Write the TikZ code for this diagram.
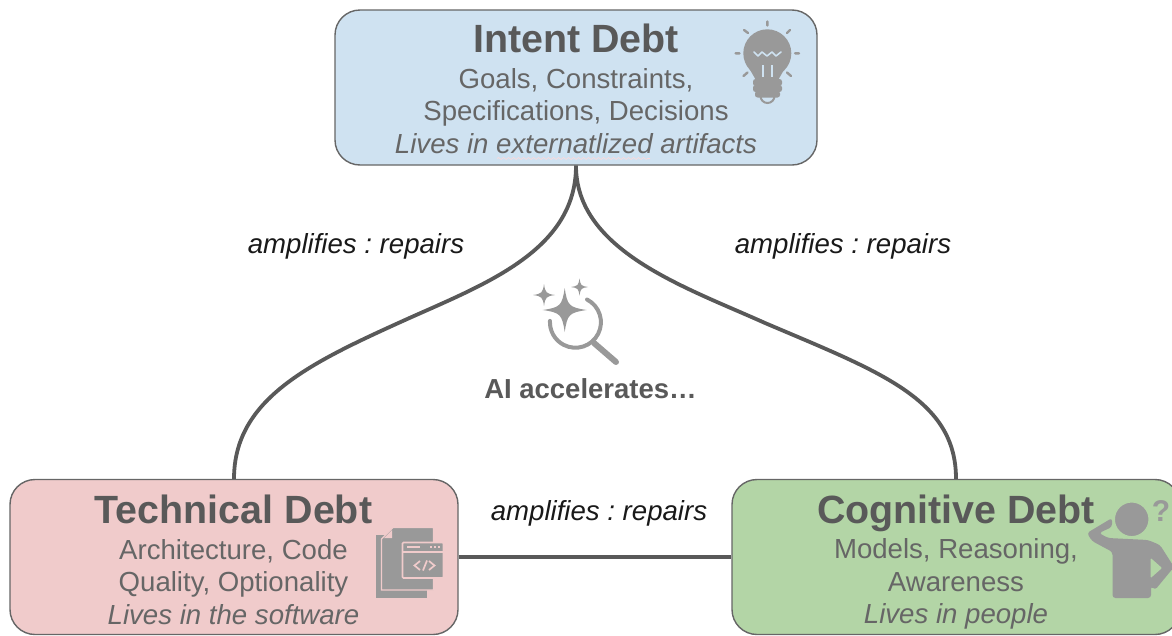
\documentclass[tikz,border=0pt]{standalone}
\usepackage{fontspec}
\setmainfont{Liberation Sans}
\usetikzlibrary{decorations.pathmorphing}
\definecolor{bluefill}{HTML}{CFE2F1}
\definecolor{redfill}{HTML}{F0CBCB}
\definecolor{greenfill}{HTML}{B3D5A6}
\definecolor{edgegray}{HTML}{666666}
\definecolor{linkgray}{HTML}{595959}
\definecolor{bodygray}{HTML}{666666}
\definecolor{titlegray}{HTML}{595959}
\definecolor{icongray}{HTML}{999999}
\newcommand{\dbttitle}[1]{{\fontsize{39.4}{35}\selectfont\bfseries\color{titlegray}#1}}
\newcommand{\dbtspark}[3]{\fill[icongray] (#1-#3,#2) .. controls (#1-#3*0.2,#2-#3*0.12) and (#1-#3*0.12,#2-#3*0.2) .. (#1,#2-#3) .. controls (#1+#3*0.12,#2-#3*0.2) and (#1+#3*0.2,#2-#3*0.12) .. (#1+#3,#2) .. controls (#1+#3*0.2,#2+#3*0.12) and (#1+#3*0.12,#2+#3*0.2) .. (#1,#2+#3) .. controls (#1-#3*0.12,#2+#3*0.2) and (#1-#3*0.2,#2+#3*0.12) .. (#1-#3,#2) -- cycle;}
\tikzset{
  debtbox/.style={draw=edgegray,line width=1.4pt,rounded corners=25pt,minimum height=155pt,inner sep=0pt},
  debttext/.style={align=center,text=bodygray,inner sep=0pt,font=\frenchspacing\fontsize{27.6}{32.6}\selectfont},
  link/.style={draw=linkgray,line width=3.8pt},
  linklabel/.style={font=\frenchspacing\fontsize{27.6}{33}\selectfont\itshape,text=black!90!white,inner sep=0pt}
}
\begin{document}
\begin{tikzpicture}[x=1pt,y=-1pt]
\useasboundingbox (0,0) rectangle (1172,635);
% boxes
\node[debtbox,fill=bluefill,minimum width=482pt] (intent) at (576,87.5) {};
\node[debtbox,fill=redfill,minimum width=448pt] (technical) at (234,557) {};
\node[debtbox,fill=greenfill,minimum width=448pt] (cognitive) at (956,557) {};
% connectors
\coordinate (leftmid) at (405,320);
\coordinate (rightmid) at (765,323);
\draw[link] (intent.south) .. controls +(0,85) and +(80,-36) .. (leftmid)
  .. controls +(-95,43) and +(0,-80) .. (technical.north);
\draw[link] (intent.south) .. controls +(0,85) and +(-80,-36) .. (rightmid)
  .. controls +(115,49) and +(0,-80) .. (cognitive.north);
\draw[link] (technical.east) -- (cognitive.west);
% lightbulb icon
\fill[icongray] (767.3,53.3) circle[radius=24];
\fill[icongray] (749,68) -- (757,82) -- (777,82) -- (785,68) -- cycle;
\fill[icongray,rounded corners=2.5pt] (753,79) rectangle (782,86);
\fill[icongray,rounded corners=2.5pt] (753,85) rectangle (782,92);
\fill[icongray,rounded corners=2.5pt] (755,91) rectangle (780,97.5);
\draw[icongray,line width=2pt] (760.5,96) arc[start angle=180,end angle=0,radius=7];
\draw[bluefill,line width=1.6pt,line join=round,line cap=round] (754,52) -- (758,56) -- (762,52) -- (767,56) -- (772,52) -- (776,56) -- (781,52);
\draw[bluefill,line width=2.2pt] (763,65) -- (763,77) (772,65) -- (772,77);
\draw[icongray,line width=2.4pt,line cap=round]
  (767.3,21.5) -- (767.3,25.5) (744,30) -- (748,33) (790,30) -- (787,33)
  (735.5,53.3) -- (739.5,53.3) (795,53.3) -- (799,53.3) (743.5,76) -- (747.5,72.5) (791,76) -- (787,72.5);
% document icon
\fill[icongray] (376,535) rectangle (427,597.7);
\fill[icongray,draw=redfill,line width=1.2pt] (393,527.5) -- (433.5,527.5) -- (433.5,590) -- (381.5,590) -- (381.5,539) -- cycle;
\fill[redfill] (384,538) -- (392,530) -- (392,538) -- cycle;
\fill[icongray,draw=redfill,line width=1.6pt,rounded corners=1pt] (402.5,542.5) rectangle (443.5,578);
\draw[redfill,line width=1.2pt] (403,552) -- (443,552);
\draw[redfill,line width=1.8pt] (407,547) -- (420,547) (430,547) -- (432,547) (434,547) -- (436,547) (438,547) -- (440,547);
\draw[redfill,line width=1.7pt] (420,561) -- (414.5,565.5) -- (420,570) (429,561) -- (434.5,565.5) -- (429,570) (427,560.5) -- (423,570.5);
% person icon
\fill[icongray,rounded corners=3pt] (1112,518) -- (1087,533) -- (1092,541) -- (1112.5,552) -- (1112.5,598) -- (1151,598) -- (1151,586) -- (1155,590) -- (1174,567) -- (1160,545) -- (1148,540) -- (1108,538) -- (1099,533) -- (1112,527) -- cycle;
\fill[greenfill,rounded corners=1pt] (1150.7,558) -- (1162,568) -- (1150.7,578) -- cycle;
\fill[icongray,draw=greenfill,line width=1.5pt] (1131.7,519.3) circle[radius=17.5];
\node[inner sep=0pt,text=icongray,font=\fontsize{30}{32}\selectfont\bfseries] (questionmark) at (1161,511.5) {?};
% texts
\node[debttext] (intenttext) at (576,89) {\dbttitle{Intent Debt}\\[3pt]Goals, Constraints,\\Specifications, Decisions\\\textit{Lives in externatlized artifacts}};
\node[debttext] (technicaltext) at (233.5,560) {\dbttitle{Technical Debt}\\[3pt]Architecture, Code\\Quality, Optionality\\\textit{Lives in the software}};
\node[debttext] (cognitivetext) at (956,562) {\dbttitle{Cognitive Debt}\\[3pt]Models, Reasoning,\\Awareness\\\textit{Lives in people}};
\draw[white!85!red,line width=0.6pt,decorate,decoration={snake,amplitude=1pt,segment length=5pt}] (497,158.5) -- (650,158.5);
\node[linklabel] (labelleft) at (356,246) {amplifies : repairs};
\node[linklabel] (labelright) at (843,246) {amplifies : repairs};
\node[linklabel] (labelbottom) at (599,513) {amplifies : repairs};
\node[inner sep=0pt,text=titlegray,font=\fontsize{27.5}{33}\selectfont\bfseries] (ai) at (590.5,389) {AI accelerates…};
% magnifier icon
\dbtspark{564.7}{310}{22}
\dbtspark{544}{295}{11}
\dbtspark{579.5}{287}{8.5}
\draw[icongray,line width=4pt,line cap=round] (587,299.5) arc[start angle=-63,end angle=183,radius=25.5];
\draw[icongray,line width=6pt,line cap=round] (594,343) -- (616,362);
\end{tikzpicture}
\end{document}
